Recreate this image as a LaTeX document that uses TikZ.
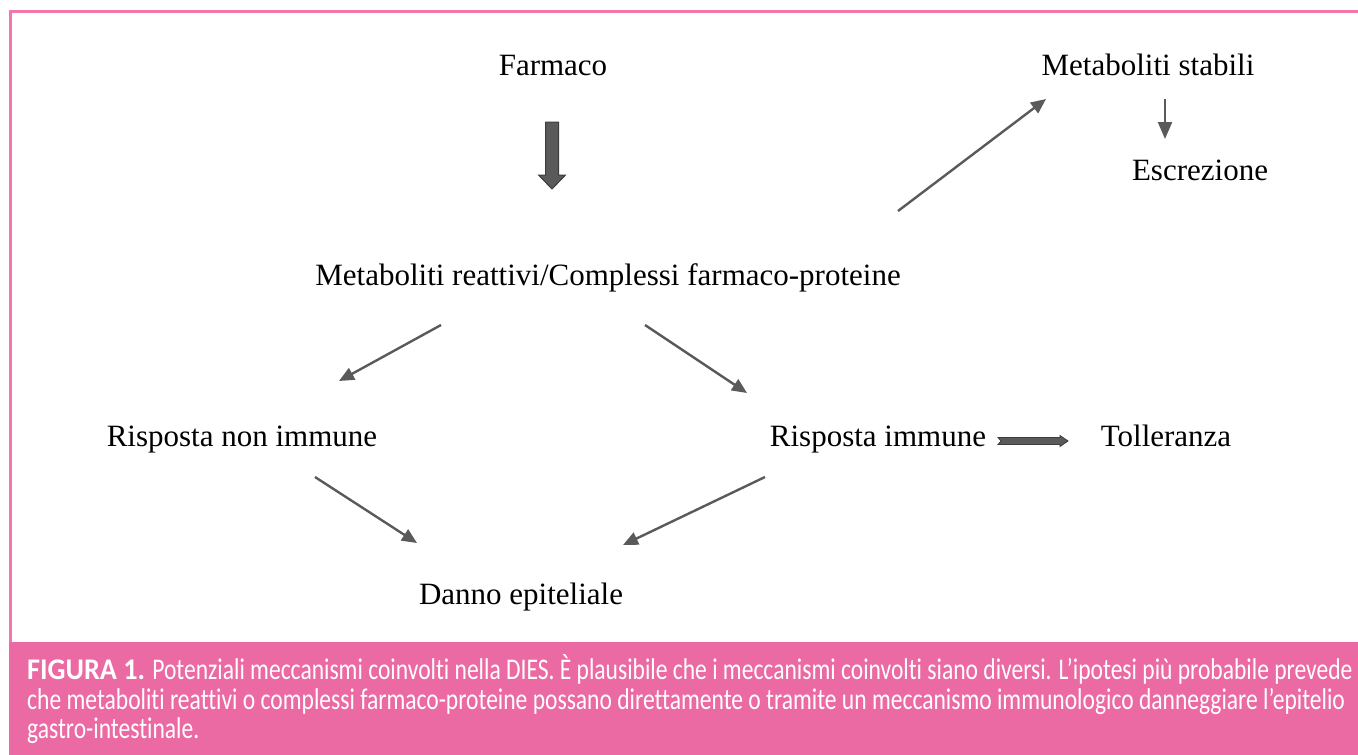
\documentclass[tikz,border=0pt]{standalone}
\usepackage{fontspec}
\setmainfont{Liberation Serif}
\newfontfamily\capfont[FakeStretch=0.785, Ligatures=NoCommon]{Carlito}
\newfontfamily\capboldfont[FakeStretch=0.94, Ligatures=NoCommon]{Carlito}
\usetikzlibrary{arrows.meta}
\definecolor{pinkband}{HTML}{EB6AA3}
\definecolor{pinkline}{HTML}{F277AD}
\definecolor{arrgray}{HTML}{5A5A5A}
\definecolor{arrdark}{HTML}{3C3C3C}
\tikzset{
  lbl/.style={font=\fontsize{31}{34}\selectfont, inner sep=0pt, text=black, text height=22pt, text depth=7pt},
  conn/.style={draw=arrgray, line width=2.4pt, -{Triangle[length=15pt,width=13pt]}},
  capline/.style={anchor=base west, inner sep=0pt, text=white, font=\capfont\fontsize{30}{30}\selectfont},
}
\begin{document}
\begin{tikzpicture}[x=1pt,y=-1pt]
\useasboundingbox (0,0) rectangle (1358,755);
% frame
\draw[pinkline, line width=3pt] (10.5,700) -- (10.5,11) -- (1360,11);
\fill[pinkband] (9,642) rectangle (1358,755);
% nodes
\node[lbl] (farm) at (553,67.5) {Farmaco};
\node[lbl] (mstab) at (1148,67.5) {Metaboliti stabili};
\node[lbl] (escr) at (1200,172.5) {Escrezione};
\node[lbl] (mreat) at (608,277.5) {Metaboliti reattivi/Complessi farmaco-proteine};
\node[lbl] (rnon) at (242,438.5) {Risposta non immune};
\node[lbl] (rimm) at (878,438.5) {Risposta immune};
\node[lbl] (toll) at (1166,438.5) {Tolleranza};
\node[lbl] (danno) at (521,596.5) {Danno epiteliale};
% connector endpoints
\coordinate (a1) at (898,211); \coordinate (a2) at (1046,99);
\coordinate (b1) at (1165,99); \coordinate (b2) at (1165,139);
\coordinate (c1) at (441,325); \coordinate (c2) at (339,381);
\coordinate (d1) at (645,325); \coordinate (d2) at (747,393);
\coordinate (e1) at (315,477); \coordinate (e2) at (417,543);
\coordinate (f1) at (765,477); \coordinate (f2) at (623,545);
% connectors
\draw[conn] (a1) -- (a2);
\draw[draw=arrgray, line width=2.4pt, -{Triangle[length=17pt,width=14pt]}] (b1) -- (b2);
\draw[conn] (c1) -- (c2);
\draw[conn] (d1) -- (d2);
\draw[conn] (e1) -- (e2);
\draw[conn] (f1) -- (f2);
% thick arrow Farmaco -> Metaboliti reattivi
\filldraw[fill=arrgray, draw=arrdark, line width=1pt]
  (545.5,122) -- (558.5,122) -- (558.5,175) -- (565.5,175) -- (552,189)
  -- (538.5,175) -- (545.5,175) -- cycle;
% arrow Risposta immune -> Tolleranza
\filldraw[fill=arrgray, draw=arrdark, line width=0.8pt]
  (998,437.5) -- (1060,437.5) -- (1060,435.5) -- (1068,441) -- (1060,446.5)
  -- (1060,444.5) -- (998,444.5) -- (1001,441) -- cycle;
% caption
\node[capline] (cap1) at (27,679) {{\capboldfont\bfseries FIGURA 1.} Potenziali meccanismi coinvolti nella DIES. È plausibile che i meccanismi coinvolti siano diversi. L’ipotesi più probabile prevede};
\node[capline] (cap2) at (27,709) {che metaboliti reattivi o complessi farmaco-proteine possano direttamente o tramite un meccanismo immunologico danneggiare l’epitelio};
\node[capline] (cap3) at (27,738) {gastro-intestinale.};
\end{tikzpicture}
\end{document}
